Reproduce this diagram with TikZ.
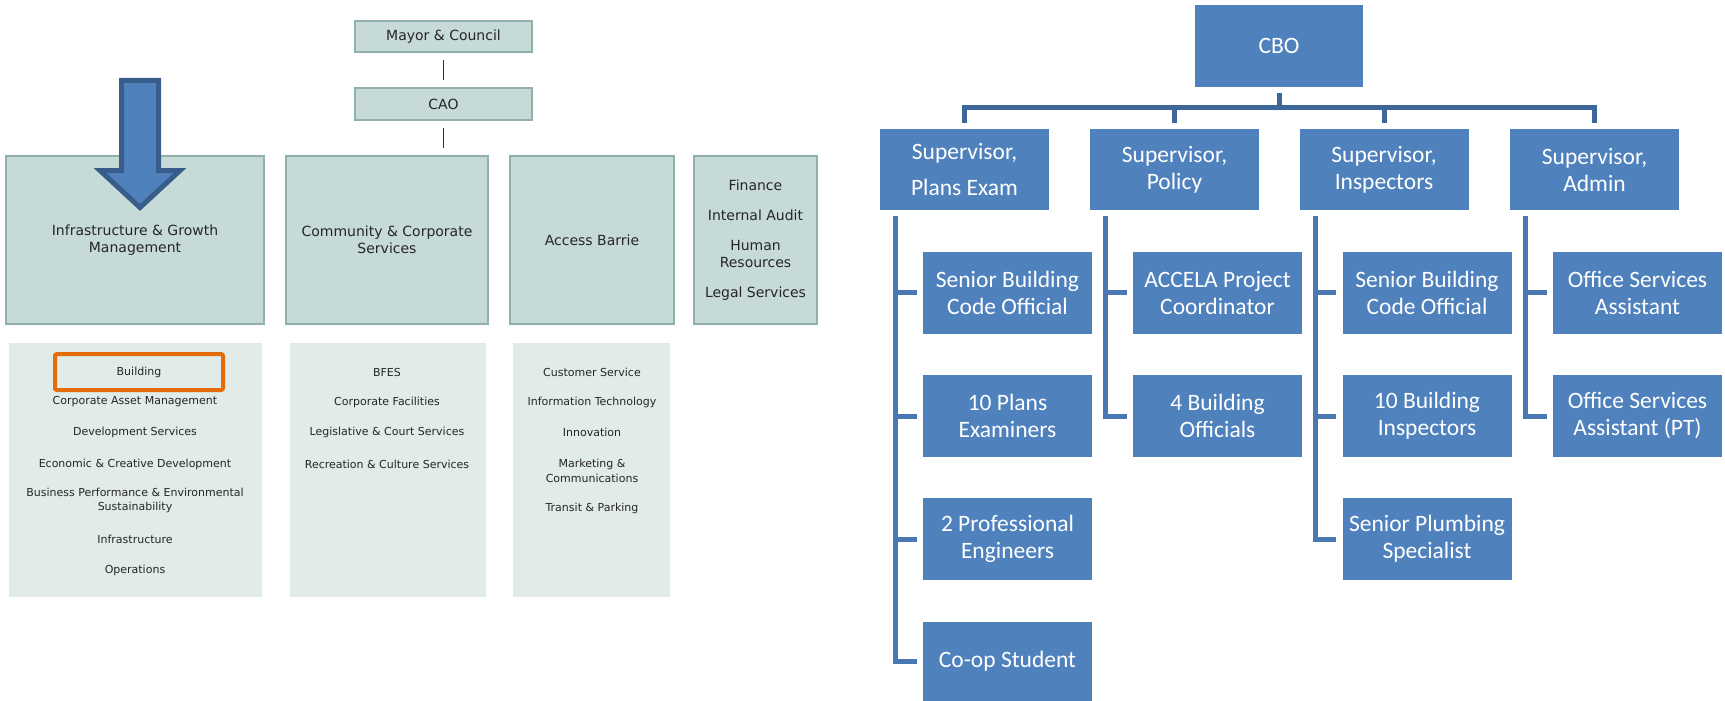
\documentclass[tikz,border=0pt]{standalone}
\usepackage{fontspec}
\newfontfamily\webfont{DejaVu Sans}
\newfontfamily\chartfont{Carlito}
\usetikzlibrary{positioning}
\definecolor{deptfill}{RGB}{198,218,215}
\definecolor{deptline}{RGB}{143,176,172}
\definecolor{panelfill}{RGB}{225,235,233}
\definecolor{hilite}{RGB}{228,108,10}
\definecolor{boxblue}{RGB}{79,129,189}
\definecolor{linkblue}{RGB}{74,120,178}
\definecolor{linkdark}{RGB}{61,102,153}
\definecolor{arrowline}{RGB}{56,93,138}

\begin{document}
\begin{tikzpicture}[x=1pt,y=-1pt,
  dept/.style={rectangle,draw=deptline,line width=1.2pt,fill=deptfill,inner sep=0pt,
               font=\webfont\fontsize{14}{17}\selectfont,text=black!85,align=center},
  panel/.style={rectangle,fill=panelfill,inner sep=0pt,minimum height=254pt},
  unitname/.style={font=\webfont\fontsize{11}{14.5}\selectfont,text=black!85,align=center,inner sep=0pt},
  role/.style={rectangle,fill=boxblue,inner sep=0pt,minimum width=169pt,minimum height=82pt,
               font=\chartfont\fontsize{23.5}{27}\selectfont,text=white,align=center},
  link/.style={draw=linkblue,line width=5pt,shorten <=6pt,shorten >=6pt},
  toplink/.style={link,draw=linkdark},
  plainlink/.style={draw=black!80,line width=1pt,shorten <=7.5pt,shorten >=7.5pt},
]
\useasboundingbox (0,0) rectangle (1725,701);

% City of Barrie structure
\node[dept,minimum width=177pt,minimum height=31pt] (mayor) at (443.5,36.5) {Mayor \& Council};
\node[dept,minimum width=177pt,minimum height=32pt] (cao) at (443.5,104) {CAO};

\node[dept,minimum width=258pt,minimum height=168pt] (igm) at (135,240)
  {Infrastructure \& Growth\\Management};
\node[dept,minimum width=202pt,minimum height=168pt] (ccs) at (387,240)
  {Community \& Corporate\\Services};
\node[dept,minimum width=164pt,minimum height=168pt] (acc) at (592,240) {Access Barrie};
\node[dept,minimum width=123pt,minimum height=168pt] (fin) at (755.5,240)
  {Finance\\[13pt]Internal Audit\\[13pt]Human\\Resources\\[13pt]Legal Services};

\draw[plainlink] (mayor) -- (cao);
\draw[plainlink] (cao) -- (cao |- ccs.north);

% Department panels
\node[panel,minimum width=253.5pt] (p1) at (135.25,470) {};
\node[panel,minimum width=196pt] (p2) at (388,470) {};
\node[panel,minimum width=157pt] (p3) at (591.5,470) {};

\node[unitname,draw=hilite,line width=4pt,rounded corners=2pt,minimum width=168pt,
      minimum height=36pt] (bld) at (139,372) {Building};
\node[unitname] (cam) at (135,402) {Corporate Asset Management};
\node[unitname] (dev) at (135,432) {Development Services};
\node[unitname] (ecd) at (135,464) {Economic \& Creative Development};
\node[unitname] (bpe) at (135,500.5) {Business Performance \& Environmental\\Sustainability};
\node[unitname] (inf) at (135,539) {Infrastructure};
\node[unitname] (ops) at (135,570) {Operations};

\node[unitname] (bfes) at (387,372) {BFES};
\node[unitname] (cfac) at (387,402) {Corporate Facilities};
\node[unitname] (lcs) at (387,432) {Legislative \& Court Services};
\node[unitname] (rcs) at (387,464) {Recreation \& Culture Services};

\node[unitname] (cs) at (592,372) {Customer Service};
\node[unitname] (it) at (592,402) {Information Technology};
\node[unitname] (inn) at (592,432) {Innovation};
\node[unitname] (mkt) at (592,471) {Marketing \&\\Communications};
\node[unitname] (tp) at (592,508) {Transit \& Parking};

% Pointer arrow
\draw[arrowline,line width=5pt,fill=boxblue,line join=miter]
  (121.5,80.5) -- (158.5,80.5) -- (158.5,170.5) -- (180,170.5) -- (140,207.5)
  -- (100,170.5) -- (121.5,170.5) -- cycle;

% Building department chart
\node[role,minimum width=168pt] (cbo) at (1279,46) {CBO};
\node[role,minimum height=81pt] (sup1) at (964.5,169.5) {Supervisor,\\[9pt]Plans Exam};
\node[role,minimum height=81pt] (sup2) at (1174.5,169.5) {Supervisor,\\Policy};
\node[role,minimum height=81pt] (sup3) at (1384,169.5) {Supervisor,\\Inspectors};
\node[role,minimum height=81pt] (sup4) at (1594.5,169.5) {Supervisor,\\Admin};

\node[role] (sbc1) at (1007.5,292.5) {Senior Building\\Code Official};
\node[role] (pe) at (1007.5,416) {10 Plans\\Examiners};
\node[role] (eng) at (1007.5,539) {2 Professional\\Engineers};
\node[role,minimum height=79pt] (coop) at (1007.5,661.5) {Co-op Student};

\node[role] (accela) at (1217.5,292.5) {ACCELA Project\\Coordinator};
\node[role] (bo) at (1217.5,416) {4 Building\\Officials};

\node[role] (sbc2) at (1427,292.5) {Senior Building\\Code Official};
\node[role] (bi) at (1427,416) {10 Building\\Inspectors};
\node[role] (plumb) at (1427,539) {Senior Plumbing\\Specialist};

\node[role] (osa) at (1637.5,292.5) {Office Services\\Assistant};
\node[role] (osapt) at (1637.5,416) {Office Services\\Assistant (PT)};

\foreach \s in {sup1,sup2,sup3,sup4}
  \draw[toplink] (cbo.south) -- ++(0,20) -| (\s.north);

\foreach \c in {sbc1,pe,eng,coop}
  \draw[link] ([xshift=16pt]sup1.south west) |- (\c.west);
\foreach \c in {accela,bo}
  \draw[link] ([xshift=16pt]sup2.south west) |- (\c.west);
\foreach \c in {sbc2,bi,plumb}
  \draw[link] ([xshift=16pt]sup3.south west) |- (\c.west);
\foreach \c in {osa,osapt}
  \draw[link] ([xshift=16pt]sup4.south west) |- (\c.west);

\end{tikzpicture}
\end{document}
